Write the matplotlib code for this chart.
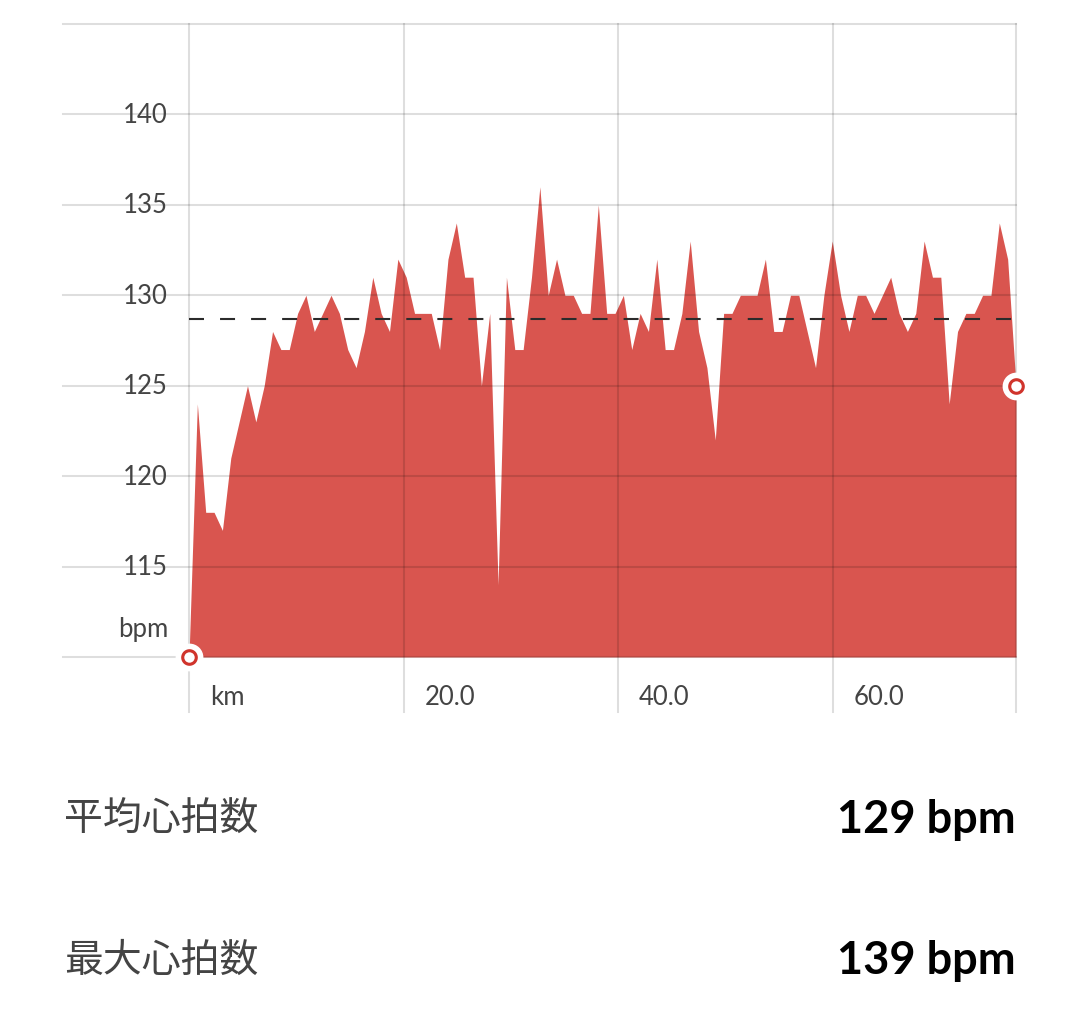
import numpy as np
import matplotlib
matplotlib.use('Agg')
from matplotlib import pyplot as plt

# heart rate samples (bpm), evenly spaced along the route
hr = [110, 124, 118, 118, 117, 121, 123, 125, 123, 125,
      128, 127, 127, 129, 130, 128, 129, 130, 129, 127,
      126, 128, 131, 129, 128, 132, 131, 129, 129, 129,
      127, 132, 134, 131, 131, 125, 129, 114, 131, 127,
      127, 131, 136, 130, 132, 130, 130, 129, 129, 135,
      129, 129, 130, 127, 129, 128, 132, 127, 127, 129,
      133, 128, 126, 122, 129, 129, 130, 130, 130, 132,
      128, 128, 130, 130, 128, 126, 130, 133, 130, 128,
      130, 130, 129, 130, 131, 129, 128, 129, 133, 131,
      131, 124, 128, 129, 129, 130, 130, 134, 132, 125]
total_km = 77.1
avg_line = 128.7

y_ticks = [115, 120, 125, 130, 135, 140]
x_ticks = [0, 20, 40, 60]
x_labels = ['km', '20.0', '40.0', '60.0']

stats_labels = ['平均心拍数', '最大心拍数']
stats_values = ['129 bpm', '139 bpm']

dist = np.linspace(0, total_km, len(hr))

W, H = 1080, 1020
fig = plt.figure(figsize=(W / 100, H / 100), dpi=100)
left, right, top, bottom = 189, 1016, 25, 658
ax = fig.add_axes([left / W, 1 - bottom / H, (right - left) / W, (bottom - top) / H])
ax.set_xlim(0, total_km)
ax.set_ylim(110, 145)
ax.axis('off')

fill_color = '#D9554F'
ax.fill_between(dist, 110, hr, color=fill_color, lw=0, zorder=1)

# grid lines, drawn over the fill so they show darker through it
grid_kw = dict(color='black', alpha=0.13, lw=1.5, zorder=2, clip_on=False)
ext_left = (63 - left) / (right - left)
for yv in [110] + y_ticks + [145]:
    ax.axhline(yv, xmin=ext_left, xmax=1, **grid_kw)
ext_down = -(713 - bottom) / (bottom - top)
for xv in x_ticks + [total_km]:
    ax.axvline(xv, ymin=ext_down, ymax=1, **grid_kw)

# average dashed line
ax.plot([0, total_km], [avg_line, avg_line], color='#2b2b2b', lw=1.5,
        dashes=(7.2, 7.7), zorder=3)

px = total_km / (right - left)
tick_font = dict(family=['Lato', 'DejaVu Sans'], fontsize=18.5, color='#444444')
for yv in y_ticks:
    ax.text(-21 * px, yv, str(yv), ha='right', va='center', **tick_font)
ax.text(-21 * px, 111.6, 'bpm', ha='right', va='center', **tick_font)
for xv, lab in zip(x_ticks, x_labels):
    ax.text(xv + 21 * px, 110 - 40 / 18.09, lab, ha='left', va='center', **tick_font)

# start / end markers
for xv, yv in [(dist[0], hr[0]), (dist[-1], hr[-1])]:
    ax.plot(xv, yv, 'o', ms=16, mfc='#D0342C', mec='white', mew=4, zorder=5, clip_on=False)
    ax.plot(xv, yv, 'o', ms=7.5, mfc='white', mec='none', zorder=6, clip_on=False)

# summary rows
for i, (lab, val) in enumerate(zip(stats_labels, stats_values)):
    yp = 1 - (820 + i * 141) / H
    fig.text(64 / W, yp, lab, ha='left', va='center', fontsize=28,
             color='#444444', family=['Noto Sans CJK JP', 'DejaVu Sans'])
    fig.text(1016 / W, yp, val, ha='right', va='center', fontsize=32.5,
             fontweight='bold', color='black', family=['Lato', 'DejaVu Sans'])

fig.savefig('out.png', dpi=100, facecolor='white')
